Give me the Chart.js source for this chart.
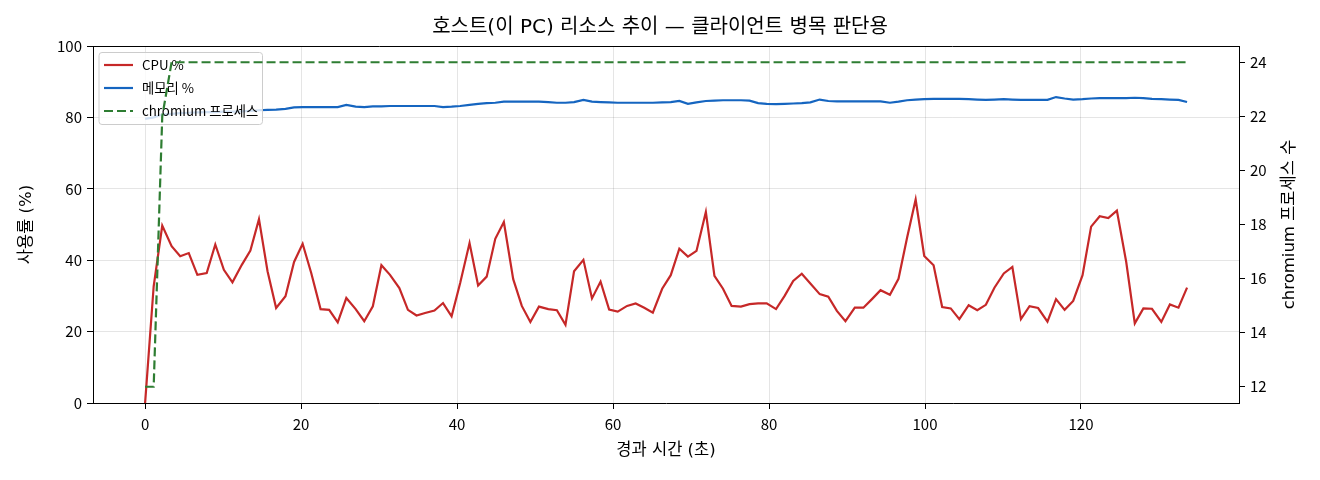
<!DOCTYPE html>
<html>
<head>
<meta charset="utf-8">
<script src="https://cdn.jsdelivr.net/npm/chart.js@4.4.1/dist/chart.umd.min.js"></script>
<style>
  html, body { margin: 0; padding: 0; background: #fff; }
  #wrap { width: 1320px; height: 480px; }
</style>
</head>
<body>
<div id="wrap"><canvas id="hostChart" width="1320" height="480"></canvas></div>
<script>
// 경과 시간 (초)
const timeSec = [
  0.0, 1.1, 2.2, 3.4, 4.5, 5.6, 6.7, 7.9, 9.0, 10.1,
  11.2, 12.4, 13.5, 14.6, 15.7, 16.8, 18.0, 19.1, 20.2, 21.3,
  22.5, 23.6, 24.7, 25.8, 27.0, 28.1, 29.2, 30.3, 31.4, 32.6,
  33.7, 34.8, 35.9, 37.1, 38.2, 39.3, 40.4, 41.6, 42.7, 43.8,
  44.9, 46.0, 47.2, 48.3, 49.4, 50.5, 51.7, 52.8, 53.9, 55.0,
  56.2, 57.3, 58.4, 59.5, 60.6, 61.8, 62.9, 64.0, 65.1, 66.3,
  67.4, 68.5, 69.6, 70.7, 71.9, 73.0, 74.1, 75.2, 76.4, 77.5,
  78.6, 79.7, 80.9, 82.0, 83.1, 84.2, 85.3, 86.5, 87.6, 88.7,
  89.8, 91.0, 92.1, 93.2, 94.3, 95.5, 96.6, 97.7, 98.8, 99.9,
  101.1, 102.2, 103.3, 104.4, 105.6, 106.7, 107.8, 108.9, 110.1, 111.2,
  112.3, 113.4, 114.5, 115.7, 116.8, 117.9, 119.0, 120.2, 121.3, 122.4,
  123.5, 124.6, 125.8, 126.9, 128.0, 129.1, 130.3, 131.4, 132.5, 133.6
];

const cpuPct = [
  0, 32.7, 49.7, 43.9, 41.1, 42.0, 35.9, 36.4, 44.4, 37.3,
  33.8, 38.7, 42.7, 51.5, 36.9, 26.6, 29.9, 39.5, 44.6, 36.4,
  26.3, 26.1, 22.6, 29.4, 26.3, 22.9, 27.1, 38.6, 35.9, 32.2,
  26.1, 24.5, 25.2, 25.9, 28.0, 24.3, 33.6, 44.8, 32.9, 35.4,
  46.0, 50.7, 34.7, 27.2, 22.7, 27.0, 26.3, 26.0, 21.9, 36.9,
  40.1, 29.3, 34.0, 26.2, 25.6, 27.2, 27.9, 26.7, 25.3, 32.0,
  35.8, 43.2, 41.0, 42.6, 53.5, 35.6, 32.0, 27.2, 27.0, 27.7,
  27.9, 27.9, 26.3, 30.0, 34.2, 36.2, 33.5, 30.5, 29.8, 25.8,
  22.9, 26.7, 26.7, 29.1, 31.6, 30.3, 34.8, 46.3, 57.0, 41.2,
  38.6, 26.9, 26.5, 23.5, 27.4, 26.0, 27.5, 32.3, 36.3, 38.1,
  23.5, 27.1, 26.6, 22.8, 29.1, 26.1, 28.6, 35.8, 49.4, 52.3,
  51.8, 53.9, 39.5, 22.3, 26.5, 26.4, 22.7, 27.6, 26.7, 32.3
];

const memPct = [
  79.6, 80.0, 80.8, 81.0, 81.2, 81.3, 81.4, 81.5, 81.5, 81.6,
  81.6, 81.7, 81.8, 82.0, 82.1, 82.2, 82.4, 82.8, 82.9, 82.9,
  82.9, 82.9, 82.9, 83.5, 83.0, 82.9, 83.1, 83.1, 83.2, 83.2,
  83.2, 83.2, 83.2, 83.2, 82.9, 83.0, 83.2, 83.5, 83.8, 84.0,
  84.1, 84.4, 84.4, 84.4, 84.4, 84.4, 84.3, 84.1, 84.1, 84.3,
  84.9, 84.4, 84.3, 84.2, 84.1, 84.1, 84.1, 84.1, 84.1, 84.2,
  84.3, 84.6, 83.8, 84.2, 84.6, 84.7, 84.8, 84.8, 84.8, 84.7,
  84.0, 83.8, 83.7, 83.8, 83.9, 84.0, 84.2, 85.0, 84.6, 84.5,
  84.5, 84.5, 84.5, 84.5, 84.5, 84.1, 84.4, 84.8, 85.0, 85.1,
  85.2, 85.2, 85.2, 85.2, 85.1, 85.0, 84.9, 85.0, 85.1, 85.0,
  84.9, 84.9, 84.9, 84.9, 85.7, 85.3, 85.0, 85.1, 85.3, 85.4,
  85.4, 85.4, 85.4, 85.5, 85.4, 85.2, 85.1, 85.0, 84.9, 84.3
];

const procCount = [
  12, 12, 22, 24, 24, 24, 24, 24, 24, 24,
  24, 24, 24, 24, 24, 24, 24, 24, 24, 24,
  24, 24, 24, 24, 24, 24, 24, 24, 24, 24,
  24, 24, 24, 24, 24, 24, 24, 24, 24, 24,
  24, 24, 24, 24, 24, 24, 24, 24, 24, 24,
  24, 24, 24, 24, 24, 24, 24, 24, 24, 24,
  24, 24, 24, 24, 24, 24, 24, 24, 24, 24,
  24, 24, 24, 24, 24, 24, 24, 24, 24, 24,
  24, 24, 24, 24, 24, 24, 24, 24, 24, 24,
  24, 24, 24, 24, 24, 24, 24, 24, 24, 24,
  24, 24, 24, 24, 24, 24, 24, 24, 24, 24,
  24, 24, 24, 24, 24, 24, 24, 24, 24, 24
];

const xTicks = [0, 20, 40, 60, 80, 100, 120];
const leftTicks = [0, 20, 40, 60, 80, 100];
const rightTicks = [12, 14, 16, 18, 20, 22, 24];

const seriesNames = ['CPU %', '메모리 %', 'chromium 프로세스'];
const seriesColors = ['#c62828', '#1565c0', '#2e7d32'];

const labelFamily = "'DejaVu Sans', 'Noto Sans CJK KR', sans-serif";
Chart.defaults.font.family = "'Noto Sans CJK KR', 'Noto Sans', sans-serif";
Chart.defaults.color = '#000';

const toPoints = (vals) => vals.map((v, i) => ({ x: timeSec[i], y: v }));

// legend inside the plot, top-left. drawn after the left-axis lines,
// before the process line (that one sits on the twin axis, on top)
const innerLegend = {
  id: 'innerLegend',
  afterDatasetDraw(chart, args) {
    if (args.index !== 1) return;
    const { ctx, chartArea } = chart;
    const x = chartArea.left + 6;
    const y = chartArea.top + 6.5;
    const w = 163.5;
    const h = 72;
    ctx.save();
    ctx.beginPath();
    ctx.roundRect(x, y, w, h, 3);
    ctx.fillStyle = 'rgba(255,255,255,0.8)';
    ctx.fill();
    ctx.strokeStyle = '#cccccc';
    ctx.lineWidth = 1;
    ctx.stroke();

    ctx.font = "13.3px 'Noto Sans CJK KR'";
    ctx.textBaseline = 'middle';
    seriesNames.forEach((name, i) => {
      const ry = y + 12.5 + i * 23;
      ctx.beginPath();
      ctx.strokeStyle = seriesColors[i];
      ctx.lineWidth = 2.2;
      ctx.setLineDash(i === 2 ? [9, 4] : []);
      ctx.moveTo(x + 5, ry);
      ctx.lineTo(x + 34, ry);
      ctx.stroke();
      ctx.setLineDash([]);
      ctx.fillStyle = '#000';
      ctx.fillText(name, x + 43, ry);
    });
    ctx.restore();
  }
};

// top spine + right axis title (reads bottom-to-top)
const frameAndLabel = {
  id: 'frameAndLabel',
  afterDraw(chart) {
    const { ctx, chartArea } = chart;
    ctx.save();
    ctx.strokeStyle = '#000';
    ctx.lineWidth = 1;
    ctx.beginPath();
    ctx.moveTo(chartArea.left, Math.round(chartArea.top) + 0.5);
    ctx.lineTo(chartArea.right, Math.round(chartArea.top) + 0.5);
    ctx.stroke();

    ctx.translate(chartArea.right + 51, (chartArea.top + chartArea.bottom) / 2);
    ctx.rotate(-Math.PI / 2);
    ctx.font = "16.5px " + labelFamily;
    ctx.fillStyle = '#000';
    ctx.textAlign = 'center';
    ctx.textBaseline = 'middle';
    ctx.fillText('chromium 프로세스 수', 0, 0);
    ctx.restore();
  }
};

new Chart(document.getElementById('hostChart'), {
  type: 'line',
  data: {
    datasets: [
      {
        label: seriesNames[0],
        data: toPoints(cpuPct),
        borderColor: seriesColors[0],
        borderWidth: 2.2,
        pointRadius: 0,
        tension: 0,
        yAxisID: 'y',
        order: 2,
      },
      {
        label: seriesNames[1],
        data: toPoints(memPct),
        borderColor: seriesColors[1],
        borderWidth: 2.2,
        pointRadius: 0,
        tension: 0,
        yAxisID: 'y',
        order: 1,
      },
      {
        label: seriesNames[2],
        data: toPoints(procCount),
        borderColor: seriesColors[2],
        borderWidth: 2.2,
        borderDash: [9, 4],
        pointRadius: 0,
        tension: 0,
        yAxisID: 'y2',
        order: 0,
      }
    ]
  },
  options: {
    responsive: false,
    animation: false,
    layout: { padding: 0 },
    scales: {
      x: {
        type: 'linear',
        min: -6.68,
        max: 140.26,
        afterBuildTicks: (scale) => { scale.ticks = xTicks.map(v => ({ value: v })); },
        afterFit: (scale) => { scale.height = 77; },
        grid: {
          color: 'rgba(0,0,0,0.1)',
          tickColor: '#000',
          tickLength: 6,
        },
        border: { color: '#000' },
        ticks: {
          padding: 6,
          maxRotation: 0,
          font: { size: 15 },
          color: '#000',
        },
        title: {
          display: true,
          text: '경과 시간 (초)',
          font: { size: 16.5, family: labelFamily },
          padding: { bottom: 19 },
        }
      },
      y: {
        position: 'left',
        min: 0,
        max: 100,
        afterBuildTicks: (scale) => { scale.ticks = leftTicks.map(v => ({ value: v })); },
        afterFit: (scale) => { scale.width = 93; },
        grid: {
          color: 'rgba(0,0,0,0.1)',
          tickColor: '#000',
          tickLength: 6,
        },
        border: { color: '#000' },
        ticks: {
          padding: 5,
          font: { size: 15 },
          color: '#000',
        },
        title: {
          display: true,
          text: '사용률 (%)',
          font: { size: 16.5, family: labelFamily },
          padding: { top: 17 },
        }
      },
      y2: {
        position: 'right',
        min: 11.4,
        max: 24.6,
        afterBuildTicks: (scale) => { scale.ticks = rightTicks.map(v => ({ value: v })); },
        afterFit: (scale) => { scale.width = 81; },
        grid: {
          drawOnChartArea: false,
          tickColor: '#000',
          tickLength: 6,
        },
        border: { color: '#000' },
        ticks: {
          padding: 5,
          font: { size: 15 },
          color: '#000',
        }
      }
    },
    plugins: {
      legend: { display: false },
      tooltip: { enabled: false },
      title: {
        display: true,
        text: '호스트(이 PC) 리소스 추이 — 클라이언트 병목 판단용',
        font: { size: 20, weight: 'normal', family: labelFamily },
        color: '#000',
        padding: { top: 16, bottom: 6 },
      }
    }
  },
  plugins: [innerLegend, frameAndLabel]
});
</script>
</body>
</html>
